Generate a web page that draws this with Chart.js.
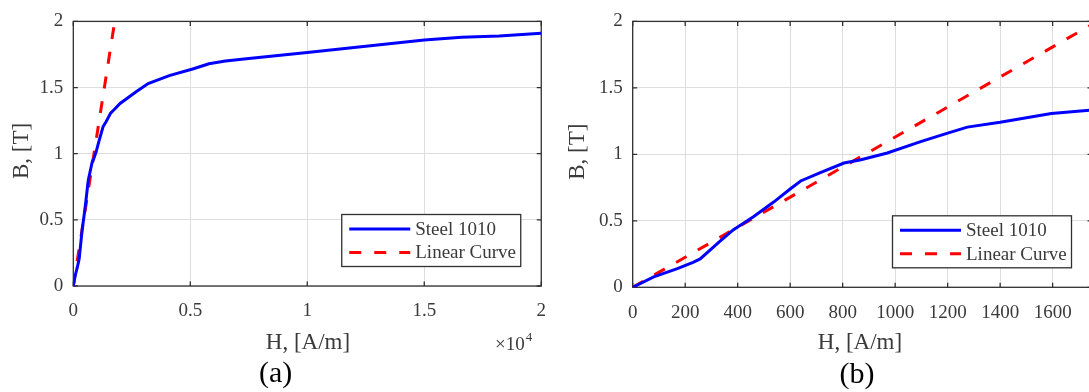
<!DOCTYPE html>
<html>
<head>
<meta charset="utf-8">
<script src="https://cdn.jsdelivr.net/npm/chart.js@4.4.1/dist/chart.umd.min.js"></script>
<style>
  html, body { margin: 0; padding: 0; background: #fff; overflow: hidden; width: 1089px; height: 392px; }
  .panel { position: absolute; top: 0; height: 392px; }
  #panelA { left: 0; width: 560px; }
  #panelB { left: 560px; width: 540px; }
</style>
</head>
<body>
<div class="panel" id="panelA"><canvas id="chartA" width="560" height="392"></canvas></div>
<div class="panel" id="panelB"><canvas id="chartB" width="540" height="392"></canvas></div>
<script>
// B-H curve of Steel 1010 (H in A/m, B in T)
const steelH = [0, 80, 170, 230, 257, 333, 384, 460, 537, 600, 640, 715, 805, 870, 970, 1100, 1200, 1275, 1400, 1595, 1740,
                2000, 2700, 3200, 4100, 5100, 5800, 6500, 7500, 10000, 11300, 12800, 15000, 16600, 18200, 20000];
const steelB = [0, 0.078, 0.14, 0.188, 0.213, 0.347, 0.433, 0.531, 0.641, 0.739, 0.80, 0.862, 0.935, 0.96, 1.01, 1.097, 1.16, 1.205, 1.241, 1.307, 1.332,
                1.38, 1.47, 1.53, 1.59, 1.64, 1.68, 1.70, 1.72, 1.765, 1.79, 1.817, 1.86, 1.88, 1.89, 1.91];

// linear approximation (straight line through origin)
const linearH = [0, 1770];
const linearB = [0, 2];

const seriesNames = ['Steel 1010', 'Linear Curve'];
const yTicks = [0, 0.5, 1, 1.5, 2];
const xTicksA = [0, 5000, 10000, 15000, 20000];   // labelled in units of 10^4
const xTicksB = [0, 200, 400, 600, 800, 1000, 1200, 1400, 1600];

const serif = "'Liberation Serif', 'Times New Roman', serif";
const axisColor = '#303030';
const gridColor = '#dedede';
const labelColor = '#3a3a3a';

function toPoints(xs, ys) {
    return xs.map((x, i) => ({ x: x, y: ys[i] }));
}

// box round the plot with MATLAB style inward ticks
const framePlugin = {
    id: 'frame',
    beforeDatasetsDraw(chart) {
        const { ctx, chartArea: a, scales } = chart;
        ctx.save();
        ctx.strokeStyle = axisColor;
        ctx.lineWidth = 1.3;
        ctx.strokeRect(a.left, a.top, a.right - a.left, a.bottom - a.top);
        const tl = 4.5;
        ctx.beginPath();
        scales.x.ticks.forEach(t => {
            const px = scales.x.getPixelForValue(t.value);
            ctx.moveTo(px, a.bottom); ctx.lineTo(px, a.bottom - tl);
            ctx.moveTo(px, a.top); ctx.lineTo(px, a.top + tl);
        });
        scales.y.ticks.forEach(t => {
            const py = scales.y.getPixelForValue(t.value);
            ctx.moveTo(a.left, py); ctx.lineTo(a.left + tl, py);
            ctx.moveTo(a.right, py); ctx.lineTo(a.right - tl, py);
        });
        ctx.stroke();
        ctx.restore();
    }
};

// boxed legend in the lower right corner
const legendPlugin = {
    id: 'boxLegend',
    afterDatasetsDraw(chart) {
        const { ctx, chartArea: a } = chart;
        const w = 179, h = 52;
        const x = a.right - 21 - w, y = a.bottom - 20 - h;
        ctx.save();
        ctx.fillStyle = '#fff';
        ctx.fillRect(x, y, w, h);
        ctx.strokeStyle = axisColor;
        ctx.lineWidth = 1.3;
        ctx.strokeRect(x + 0.5, y + 0.5, w, h);
        chart.data.datasets.forEach((ds, i) => {
            const ry = y + 15 + i * 23.5;
            ctx.beginPath();
            ctx.setLineDash(ds.borderDash || []);
            ctx.strokeStyle = ds.borderColor;
            ctx.lineWidth = ds.borderWidth;
            ctx.moveTo(x + 8, ry);
            ctx.lineTo(x + 69, ry);
            ctx.stroke();
            ctx.setLineDash([]);
            ctx.fillStyle = labelColor;
            ctx.font = '19px ' + serif;
            ctx.textAlign = 'left';
            ctx.textBaseline = 'middle';
            ctx.fillText(ds.label, x + 74, ry + 1);
        });
        ctx.restore();
    }
};

// axis titles, panel tag and the x10^4 multiplier
const titlePlugin = {
    id: 'titles',
    afterDraw(chart) {
        const o = chart.options.plugins.titles;
        const ctx = chart.ctx;
        ctx.save();
        ctx.fillStyle = labelColor;
        ctx.textAlign = 'center';
        ctx.textBaseline = 'middle';
        ctx.font = '23px ' + serif;
        ctx.fillText('H, [A/m]', o.xTitle[0], o.xTitle[1]);
        ctx.save();
        ctx.translate(o.yTitle[0], o.yTitle[1]);
        ctx.rotate(-Math.PI / 2);
        ctx.fillText('B, [T]', 0, 0);
        ctx.restore();
        ctx.fillStyle = '#000';
        ctx.font = '30px ' + serif;
        ctx.fillText(o.tag, o.tagPos[0], o.tagPos[1]);
        if (o.exponent) {
            ctx.fillStyle = labelColor;
            ctx.textAlign = 'left';
            ctx.font = '19px ' + serif;
            ctx.fillText('\u00d710', o.exponent[0], o.exponent[1]);
            const w = ctx.measureText('\u00d710').width;
            ctx.font = '13px ' + serif;
            ctx.fillText('4', o.exponent[0] + w + 1, o.exponent[1] - 7);
        }
        ctx.restore();
    }
};

function makeChart(id, cfg) {
    return new Chart(document.getElementById(id), {
        type: 'line',
        data: {
            datasets: [{
                label: seriesNames[0],
                data: toPoints(steelH, steelB),
                borderColor: '#0000ff',
                borderWidth: 3,
                pointRadius: 0,
                tension: 0
            }, {
                label: seriesNames[1],
                data: toPoints(linearH, linearB),
                borderColor: '#ff0000',
                borderWidth: 3,
                borderDash: [12, 13],
                pointRadius: 0,
                tension: 0
            }]
        },
        options: {
            responsive: false,
            animation: false,
            events: [],
            layout: { padding: { left: 0, top: cfg.top, right: cfg.right, bottom: 0 } },
            plugins: {
                legend: { display: false },
                tooltip: { enabled: false },
                titles: cfg.titles
            },
            scales: {
                x: {
                    type: 'linear',
                    min: 0,
                    max: cfg.xMax,
                    afterBuildTicks: scale => {
                        scale.ticks = cfg.xTicks.map(v => ({ value: v }));
                    },
                    afterFit: scale => { scale.height = 392 - cfg.bottom; },
                    grid: { color: gridColor, lineWidth: 1, drawTicks: false },
                    border: { display: false },
                    ticks: {
                        padding: 14,
                        maxRotation: 0,
                        autoSkip: false,
                        color: labelColor,
                        font: { family: serif, size: 19 },
                        callback: cfg.xFormat
                    }
                },
                y: {
                    type: 'linear',
                    min: 0,
                    max: 2,
                    afterBuildTicks: scale => {
                        scale.ticks = yTicks.map(v => ({ value: v }));
                    },
                    afterFit: scale => { scale.width = cfg.left; },
                    grid: { color: gridColor, lineWidth: 1, drawTicks: false },
                    border: { display: false },
                    ticks: {
                        padding: 10,
                        color: labelColor,
                        font: { family: serif, size: 19 },
                        callback: v => String(v)
                    }
                }
            }
        },
        plugins: [framePlugin, legendPlugin, titlePlugin]
    });
}

// (a) full range, H axis in units of 10^4
makeChart('chartA', {
    left: 73.3, top: 16.5, right: 17, bottom: 286,
    xMax: 20000,
    xTicks: xTicksA,
    xFormat: v => String(v / 10000),
    titles: { xTitle: [308, 343], yTitle: [21.7, 151], tag: '(a)', tagPos: [275.7, 374], exponent: [495, 345] }
});

// (b) zoom on the low field part
makeChart('chartB', {
    left: 72.7, top: 15, right: 8, bottom: 287.3,
    xMax: 1750,
    xTicks: xTicksB,
    xFormat: v => String(v),
    titles: { xTitle: [300, 343], yTitle: [18.3, 151.7], tag: '(b)', tagPos: [297, 375], exponent: null }
});
</script>
</body>
</html>
